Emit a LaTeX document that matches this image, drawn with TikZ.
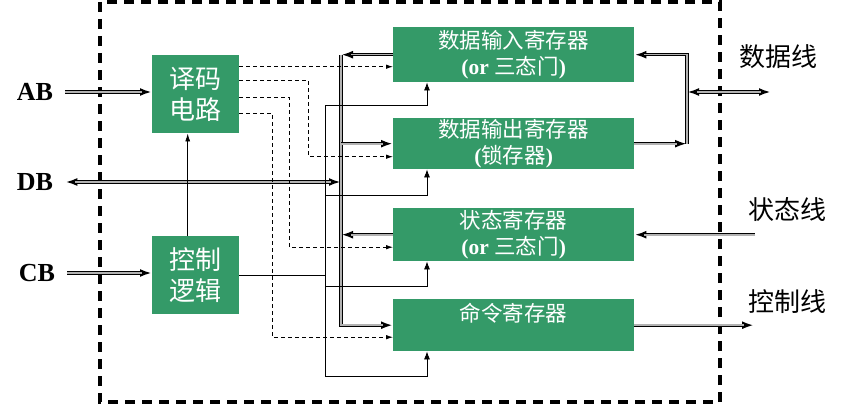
\documentclass[tikz,border=0pt]{standalone}
\usepackage{fontspec}
\setmainfont{Liberation Serif}
\newfontfamily\cjk{Noto Sans CJK SC}
\usetikzlibrary{arrows.meta}
\definecolor{regGreen}{RGB}{52,154,104}
\begin{document}
\begin{tikzpicture}[x=1pt,y=-1pt,
    blk/.style={fill=regGreen,text=white,inner sep=0pt,anchor=north west,align=center},
    regfont/.style={font=\cjk\fontsize{21.5}{26}\selectfont},
    busto/.style={line width=3.2pt,-{Latex[length=12pt,width=8pt]},
        postaction={draw=gray!60,line width=1.6pt,-,shorten >=10pt}},
    busboth/.style={line width=3.2pt,{Latex[length=12pt,width=8pt]}-{Latex[length=12pt,width=8pt]},
        postaction={draw=gray!60,line width=1.6pt,-,shorten >=10pt,shorten <=10pt}},
    sig/.style={line width=0.8pt,dash pattern=on 4pt off 3pt,-{Latex[length=7pt,width=4.5pt]}},
    ctlline/.style={line width=0.8pt},
    lbl/.style={font=\bfseries\fontsize{26}{30}\selectfont,inner sep=12pt},
    side/.style={font=\cjk\fontsize{26}{30}\selectfont,inner sep=0pt}]
    \useasboundingbox (0,0) rectangle (845,404);
    \draw[line width=3.2pt,dash pattern=on 10pt off 7pt] (100,2) rectangle (720,402);
    % blocks
    \node[blk,minimum width=87pt,minimum height=78pt,font=\cjk\fontsize{26}{31}\selectfont] (dec) at (152,55) {译码\\电路};
    \node[blk,minimum width=87pt,minimum height=78pt,font=\cjk\fontsize{26}{31}\selectfont] (ctl) at (152,236) {控制\\逻辑};
    \node[blk,regfont,minimum width=241pt,minimum height=55pt] (din) at (393,27) {数据输入寄存器\\{\rmfamily\bfseries(or }三态门{\rmfamily\bfseries)}};
    \node[blk,regfont,minimum width=241pt,minimum height=51pt] (dout) at (393,118) {数据输出寄存器\\{\rmfamily\bfseries(}锁存器{\rmfamily\bfseries)}};
    \node[blk,regfont,minimum width=241pt,minimum height=53pt] (stat) at (393,208) {状态寄存器\\{\rmfamily\bfseries(or }三态门{\rmfamily\bfseries)}};
    \node[blk,regfont,minimum width=241pt,minimum height=52pt] (cmd) at (393,299) {命令寄存器\\\mbox{}};
    % bus labels
    \node[lbl] (ab) at (35,92) {AB};
    \node[lbl] (db) at (35,182) {DB};
    \node[lbl] (cb) at (37,273) {CB};
    \node[side] (dataline) at (778,57) {数据线};
    \node[side] (statline) at (787,210) {状态线};
    \node[side] (ctlout) at (787,302) {控制线};
    \coordinate (bx) at (341,0);
    \coordinate (jx) at (687,0);
    \coordinate (cx) at (325,0);
    \coordinate (dataEnd) at (771,92);
    \coordinate (statEnd) at (755,0);
    \coordinate (ctlEnd) at (754,0);
    % system bus side
    \draw[busto] (ab.east) -- (ab.east -| dec.west);
    \draw[busto] (cb.east) -- (cb.east -| ctl.west);
    \draw[busboth] (db.east) -- (db.east -| bx);
    \draw[busto] (din.west) -- (din.west -| bx);
    \draw[busto] (din.west -| bx) -- (cmd.west -| bx) -- (cmd.west);
    \draw[busto] (dout.west -| bx) -- (dout.west);
    \draw[busto] (stat.west) -- (stat.west -| bx);
    % device side
    \draw[busto] (dout.east) -- (dout.east -| jx);
    \draw[busto] (dout.east -| jx) -- (din.east -| jx) -- (din.east);
    \draw[busboth] (dataEnd -| jx) -- (dataEnd);
    \draw[busto] (stat.east -| statEnd) -- (stat.east);
    \draw[busto] (cmd.east) -- (cmd.east -| ctlEnd);
    % address decoding
    \coordinate (d1) at ([yshift=-12pt]din.west);
    \coordinate (d2) at ([yshift=-13pt]dout.west);
    \coordinate (d3) at ([yshift=-12.5pt]stat.west);
    \coordinate (d4) at ([yshift=-12pt]cmd.west);
    \draw[sig] (d1 -| dec.east) -- (d1);
    \draw[sig] ([yshift=14pt]dec.east) -- ++(69,0) |- (d2);
    \draw[sig] ([yshift=-3pt]dec.east) -- ++(50,0) |- (d3);
    \draw[sig] ([yshift=-19pt]dec.east) -- ++(33,0) |- (d4);
    % control logic
    \draw[ctlline,-{Latex[length=8pt,width=5pt]}] ([xshift=-8pt]ctl.north) -- ([xshift=-8pt]dec.south);
    \draw[ctlline] (ctl.east) -- (ctl.east -| cx);
    \foreach \r/\g in {din/-23pt,dout/-26pt,stat/-25pt,cmd/-25pt}{
        \coordinate (\r-c) at ([xshift=34pt,yshift=\g]\r.south west);
        \draw[ctlline,-{Latex[length=8pt,width=6pt]}] (\r-c -| cx) -- (\r-c) -- ([xshift=34pt]\r.south west);
    }
    \draw[ctlline] (din-c -| cx) -- (cmd-c -| cx);
\end{tikzpicture}
\end{document}
